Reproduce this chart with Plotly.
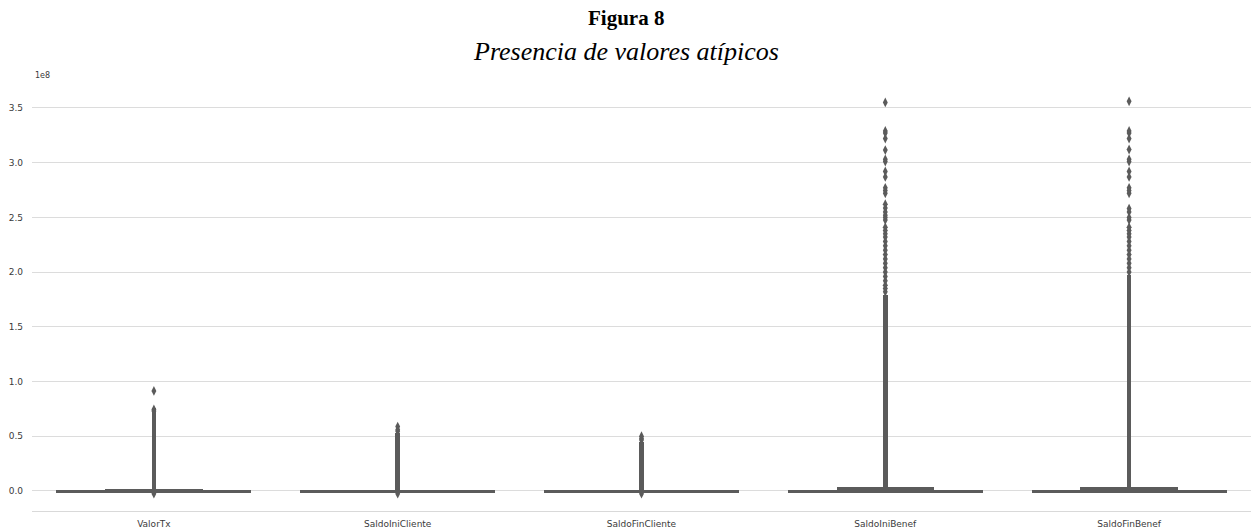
import plotly.graph_objects as go

# Variables on the x axis
categories = ["ValorTx", "SaldoIniCliente", "SaldoFinCliente", "SaldoIniBenef", "SaldoFinBenef"]

# Central letter-value box (lower, upper)
box1_low = [-1.5e6, -1.5e6, -1.5e6, -1.8e6, -1.8e6]
box1_high = [1.0e6, 0.9e6, 0.9e6, 1.2e6, 1.2e6]

# Second letter-value box (lower, upper)
box2_low = [-1.5e6, -1.5e6, -1.5e6, -1.8e6, -1.8e6]
box2_high = [2.2e6, 0.9e6, 0.9e6, 3.7e6, 3.7e6]

# Extent of the narrow outer boxes (stem)
stem_low = [-1.5e6, -1.5e6, -1.5e6, -1.8e6, -1.8e6]
stem_high = [0.76e8, 0.53e8, 0.45e8, 1.79e8, 1.97e8]

# Outliers per variable
out_valortx = [0.914e8, 0.745e8, 0.73e8, -0.025e8]
out_saldoini_cliente = [0.588e8, 0.56e8, 0.545e8, -0.025e8]
out_saldofin_cliente = [0.50e8, 0.48e8, 0.465e8, -0.025e8]
out_saldoini_benef = [3.55e8, 3.29e8, 3.27e8, 3.22e8, 3.115e8, 3.03e8, 3.01e8, 2.92e8, 2.87e8,
                      2.77e8, 2.745e8, 2.72e8, 2.62e8, 2.585e8, 2.55e8, 2.52e8, 2.50e8, 2.475e8,
                      2.41e8, 2.38e8, 2.35e8, 2.32e8, 2.28e8, 2.24e8, 2.20e8, 2.16e8, 2.12e8,
                      2.08e8, 2.04e8, 2.00e8, 1.96e8, 1.92e8, 1.88e8, 1.85e8, 1.82e8]
out_saldofin_benef = [3.56e8, 3.29e8, 3.27e8, 3.22e8, 3.12e8, 3.03e8, 3.01e8, 2.92e8, 2.87e8,
                      2.77e8, 2.745e8, 2.72e8, 2.58e8, 2.55e8, 2.50e8, 2.475e8,
                      2.41e8, 2.38e8, 2.35e8, 2.32e8, 2.28e8, 2.24e8, 2.20e8, 2.16e8, 2.12e8,
                      2.08e8, 2.04e8, 2.00e8]

# Y tick labels (offset 1e8)
ytick_vals = [0, 0.5e8, 1.0e8, 1.5e8, 2.0e8, 2.5e8, 3.0e8, 3.5e8]
ytick_text = ["0.0", "0.5", "1.0", "1.5", "2.0", "2.5", "3.0", "3.5"]

BOX_COLOR = "#5b5b5b"

fig = go.Figure()


def add_boxes(lows, highs, width):
    fig.add_trace(go.Bar(
        x=categories,
        base=lows,
        y=[h - l for l, h in zip(lows, highs)],
        width=width,
        marker=dict(color=BOX_COLOR, line=dict(width=0)),
        hoverinfo="skip",
        showlegend=False,
    ))


add_boxes(box1_low, box1_high, 0.8)
add_boxes(box2_low, box2_high, 0.4)
add_boxes(stem_low, stem_high, 0.019)

outlier_sets = [out_valortx, out_saldoini_cliente, out_saldofin_cliente,
                out_saldoini_benef, out_saldofin_benef]
ox, oy = [], []
for cat, vals in zip(categories, outlier_sets):
    ox.extend([cat] * len(vals))
    oy.extend(vals)

fig.add_trace(go.Scatter(
    x=ox, y=oy, mode="markers",
    marker=dict(symbol="diamond-tall", size=7, color=BOX_COLOR, line=dict(width=0)),
    hoverinfo="skip", showlegend=False,
))

plot_left, plot_right = 32, 1251
plot_top, plot_bottom = 82, 511
plot_h = plot_bottom - plot_top
plot_w = plot_right - plot_left


def ypaper(px):
    return (plot_bottom - px) / plot_h


def xpaper(px):
    return (px - plot_left) / plot_w


fig.update_layout(
    width=1251, height=529,
    margin=dict(l=plot_left, r=1251 - plot_right, t=plot_top, b=529 - plot_bottom),
    paper_bgcolor="white", plot_bgcolor="white",
    barmode="overlay", bargap=0,
    font=dict(family="DejaVu Sans", size=9, color="#3a3a3a"),
    xaxis=dict(
        type="category", categoryorder="array", categoryarray=categories,
        range=[-0.5, 4.5], showgrid=False, zeroline=False,
        showline=True, linecolor="#d9d9d9", linewidth=1,
        ticks="", ticklabelstandoff=4,
        tickfont=dict(family="DejaVu Sans", size=9, color="#3a3a3a"),
    ),
    yaxis=dict(
        range=[-0.183e8, 3.737e8], tickvals=ytick_vals, ticktext=ytick_text,
        showgrid=True, gridcolor="#dcdcdc", gridwidth=1,
        zeroline=False, showline=False, ticks="", ticklabelstandoff=8,
        tickfont=dict(family="DejaVu Sans", size=9, color="#3a3a3a"),
    ),
    annotations=[
        dict(text="<b>Figura 8</b>", x=xpaper(626), xref="paper", y=ypaper(18), yref="paper",
             xanchor="center", yanchor="middle", showarrow=False,
             font=dict(family="Liberation Serif", size=21, color="black")),
        dict(text="<i>Presencia de valores atípicos</i>", x=xpaper(626), xref="paper",
             y=ypaper(52), yref="paper", xanchor="center", yanchor="middle",
             showarrow=False,
             font=dict(family="Liberation Serif", size=26, color="black")),
        dict(text="1e8", x=xpaper(33), xref="paper", y=ypaper(75), yref="paper",
             xanchor="left", yanchor="middle", showarrow=False,
             font=dict(family="DejaVu Sans", size=8, color="#3a3a3a")),
    ],
)

fig.write_html("out.html")
